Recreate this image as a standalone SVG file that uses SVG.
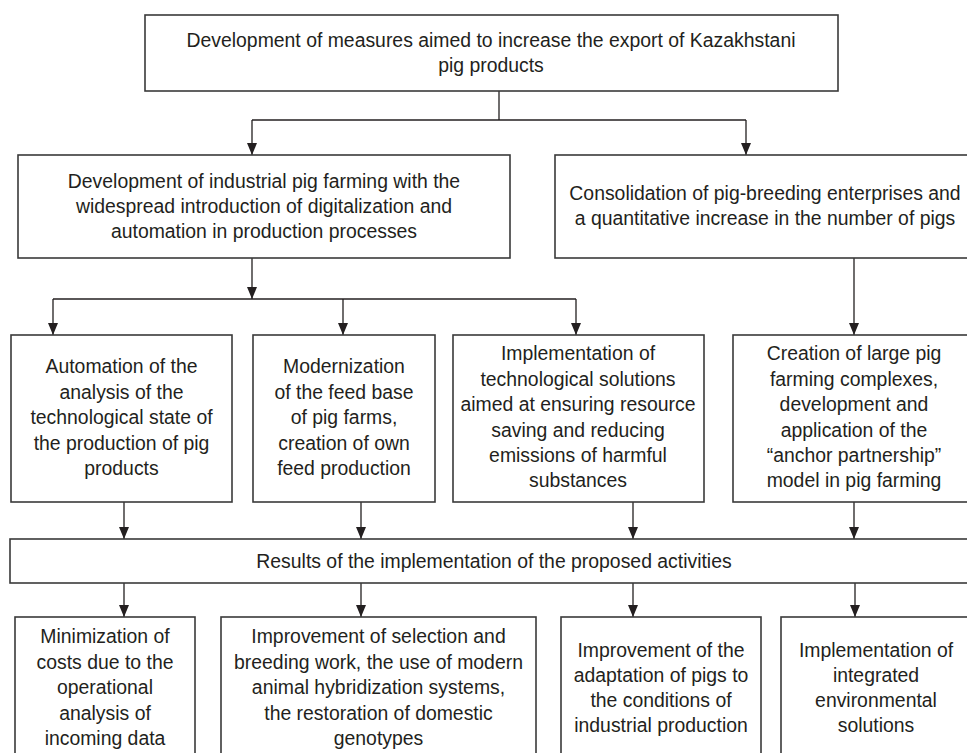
<svg xmlns="http://www.w3.org/2000/svg" width="967" height="753" viewBox="0 0 967 753">
<defs>
<style>
.box{fill:#fff;stroke:#3a3a3a;stroke-width:1.6}
.t{font-family:"Liberation Sans",Arial,sans-serif;font-size:19.4px;fill:#231f20;text-anchor:middle}
.c{fill:none;stroke:#231f20;stroke-width:1.3}
</style>
<marker id="ah" viewBox="0 0 12 10" refX="12" refY="5" markerWidth="12" markerHeight="10" markerUnits="userSpaceOnUse" orient="auto">
<path d="M0,0 L12,5 L0,10 z" fill="#231f20"/>
</marker>
</defs>
<rect width="967" height="753" fill="#fff"/>

<g id="connectors">
<path class="c" d="M499,91 V120"/>
<path class="c" d="M252,120 H746"/>
<path class="c" d="M252,120 V155" marker-end="url(#ah)"/>
<path class="c" d="M746,120 V155" marker-end="url(#ah)"/>
<path class="c" d="M252,258 V299" marker-end="url(#ah)"/>
<path class="c" d="M53,299 H576"/>
<path class="c" d="M53,299 V335" marker-end="url(#ah)"/>
<path class="c" d="M343,299 V335" marker-end="url(#ah)"/>
<path class="c" d="M576,299 V335" marker-end="url(#ah)"/>
<path class="c" d="M854,258 V335" marker-end="url(#ah)"/>
<path class="c" d="M124,502 V539" marker-end="url(#ah)"/>
<path class="c" d="M361,502 V539" marker-end="url(#ah)"/>
<path class="c" d="M633,502 V539" marker-end="url(#ah)"/>
<path class="c" d="M854,502 V539" marker-end="url(#ah)"/>
<path class="c" d="M124,583 V617" marker-end="url(#ah)"/>
<path class="c" d="M361,583 V617" marker-end="url(#ah)"/>
<path class="c" d="M633,583 V617" marker-end="url(#ah)"/>
<path class="c" d="M855,583 V617" marker-end="url(#ah)"/>
</g>

<g id="n-top">
<rect class="box" x="145" y="15" width="693" height="76"/>
<text class="t" x="491" y="47">Development of measures aimed to increase the export of Kazakhstani</text>
<text class="t" x="491" y="72">pig products</text>
</g>

<g id="n-industrial">
<rect class="box" x="18" y="155" width="492" height="103"/>
<text class="t" x="264" y="188">Development of industrial pig farming with the</text>
<text class="t" x="264" y="213">widespread introduction of digitalization and</text>
<text class="t" x="264" y="238">automation in production processes</text>
</g>

<g id="n-consolidation">
<rect class="box" x="555" y="155" width="420" height="103"/>
<text class="t" x="765" y="200">Consolidation of pig-breeding enterprises and</text>
<text class="t" x="765" y="225">a quantitative increase in the number of pigs</text>
</g>

<g id="n-automation">
<rect class="box" x="11" y="335" width="221" height="167"/>
<text class="t" x="121.5" y="373">Automation of the</text>
<text class="t" x="121.5" y="398.5">analysis of the</text>
<text class="t" x="121.5" y="424">technological state of</text>
<text class="t" x="121.5" y="449.5">the production of pig</text>
<text class="t" x="121.5" y="475">products</text>
</g>

<g id="n-modernization">
<rect class="box" x="253" y="335" width="182" height="167"/>
<text class="t" x="344" y="373">Modernization</text>
<text class="t" x="344" y="398.5">of the feed base</text>
<text class="t" x="344" y="424">of pig farms,</text>
<text class="t" x="344" y="449.5">creation of own</text>
<text class="t" x="344" y="475">feed production</text>
</g>

<g id="n-implementation">
<rect class="box" x="453" y="335" width="251" height="167"/>
<text class="t" x="578" y="360">Implementation of</text>
<text class="t" x="578" y="385.5">technological solutions</text>
<text class="t" x="578" y="411">aimed at ensuring resource</text>
<text class="t" x="578" y="436.5">saving and reducing</text>
<text class="t" x="578" y="462">emissions of harmful</text>
<text class="t" x="578" y="487">substances</text>
</g>

<g id="n-creation">
<rect class="box" x="733" y="335" width="242" height="167"/>
<text class="t" x="854" y="360">Creation of large pig</text>
<text class="t" x="854" y="385.5">farming complexes,</text>
<text class="t" x="854" y="411">development and</text>
<text class="t" x="854" y="436.5">application of the</text>
<text class="t" x="854" y="462">“anchor partnership”</text>
<text class="t" x="854" y="487">model in pig farming</text>
</g>

<g id="n-results">
<rect class="box" x="10" y="539" width="965" height="44"/>
<text class="t" x="494" y="568">Results of the implementation of the proposed activities</text>
</g>

<g id="n-minimization">
<rect class="box" x="15" y="617" width="180" height="150"/>
<text class="t" x="105" y="643">Minimization of</text>
<text class="t" x="105" y="668.5">costs due to the</text>
<text class="t" x="105" y="694">operational</text>
<text class="t" x="105" y="719.5">analysis of</text>
<text class="t" x="105" y="745">incoming data</text>
</g>

<g id="n-selection">
<rect class="box" x="221" y="617" width="315" height="150"/>
<text class="t" x="378.5" y="643">Improvement of selection and</text>
<text class="t" x="378.5" y="668.5">breeding work, the use of modern</text>
<text class="t" x="378.5" y="694">animal hybridization systems,</text>
<text class="t" x="378.5" y="719.5">the restoration of domestic</text>
<text class="t" x="378.5" y="745">genotypes</text>
</g>

<g id="n-adaptation">
<rect class="box" x="561" y="617" width="200" height="150"/>
<text class="t" x="661" y="657">Improvement of the</text>
<text class="t" x="661" y="682">adaptation of pigs to</text>
<text class="t" x="661" y="707">the conditions of</text>
<text class="t" x="661" y="732">industrial production</text>
</g>

<g id="n-environmental">
<rect class="box" x="781" y="617" width="195" height="150"/>
<text class="t" x="876" y="657">Implementation of</text>
<text class="t" x="876" y="682">integrated</text>
<text class="t" x="876" y="707">environmental</text>
<text class="t" x="876" y="732">solutions</text>
</g>
</svg>
